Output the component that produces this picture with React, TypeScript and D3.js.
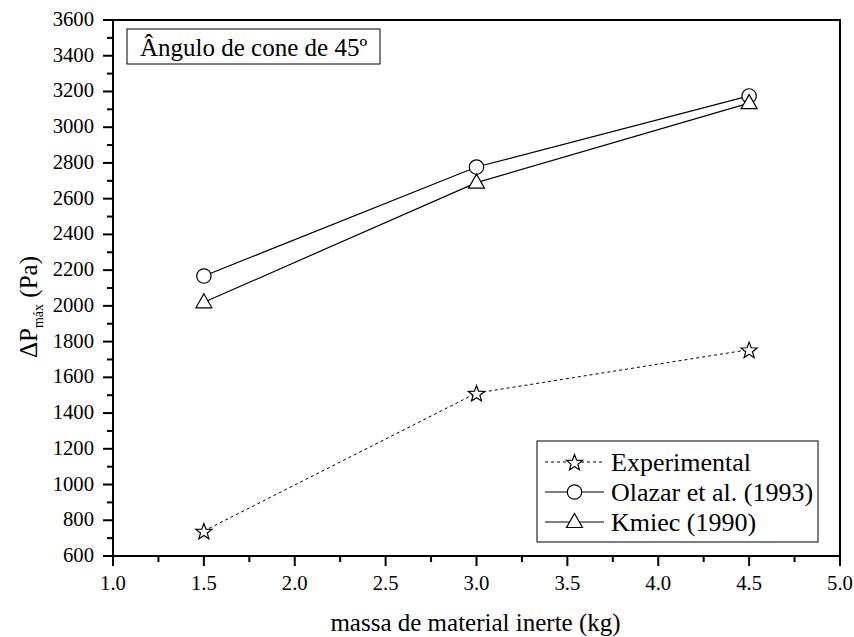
import React from "react";
import * as d3 from "d3";

const massValues = [1.5, 3.0, 4.5];
const experimental = [740, 1512, 1755];
const olazar = [2167, 2777, 3175];
const kmiec = [2020, 2690, 3135];
const xTicks = [1.0, 1.5, 2.0, 2.5, 3.0, 3.5, 4.0, 4.5, 5.0];
const yTicks = [600, 800, 1000, 1200, 1400, 1600, 1800, 2000, 2200, 2400, 2600, 2800, 3000, 3200, 3400, 3600];

const W = 854;
const H = 637;
const left = 113;
const right = 840;
const top = 20;
const bottom = 556;
const font = "Liberation Serif, DejaVu Serif, serif";

const x = d3.scaleLinear().domain([1, 5]).range([left, right]);
const y = d3.scaleLinear().domain([600, 3600]).range([bottom, top]);

const starPath = (cx: number, cy: number, r: number) => {
  const pts: [number, number][] = [];
  for (let i = 0; i < 10; i++) {
    const a = -Math.PI / 2 + (i * Math.PI) / 5;
    const rr = i % 2 === 0 ? r : r * 0.42;
    pts.push([cx + rr * Math.cos(a), cy + 1 + rr * Math.sin(a)]);
  }
  return "M" + pts.map((p) => p.join(",")).join("L") + "Z";
};

const triPath = (cx: number, cy: number, s: number) =>
  `M${cx},${cy - 8.5}L${cx + s / 2},${cy + 5.5}L${cx - s / 2},${cy + 5.5}Z`;

const Star = ({ cx, cy }: { cx: number; cy: number }) => (
  <path d={starPath(cx, cy, 8.5)} fill="white" stroke="black" strokeWidth={1.2} />
);
const Circ = ({ cx, cy }: { cx: number; cy: number }) => (
  <circle cx={cx} cy={cy} r={7.2} fill="white" stroke="black" strokeWidth={1.2} />
);
const Tri = ({ cx, cy }: { cx: number; cy: number }) => (
  <path d={triPath(cx, cy, 16)} fill="white" stroke="black" strokeWidth={1.2} />
);

const T = (props: any) => <text {...props} style={{ fontFamily: font }} />;

export default function App() {
  const line = d3
    .line<number>()
    .x((_, i) => x(massValues[i]))
    .y((d) => y(d));

  const xMinor = d3.range(1.25, 5, 0.5);
  const yMinor = d3.range(700, 3600, 200);

  const legendRows = [
    { label: "Experimental", dash: "3,3", M: Star },
    { label: "Olazar et al. (1993)", dash: undefined, M: Circ },
    { label: "Kmiec (1990)", dash: undefined, M: Tri },
  ];

  return (
    <svg width={W} height={H} style={{ position: "absolute", left: 0, top: 0 }}>
      <rect width={W} height={H} fill="white" />

      {/* series lines */}
      <path d={line(experimental) || ""} fill="none" stroke="black" strokeWidth={1} strokeDasharray="3,3" />
      <path d={line(olazar) || ""} fill="none" stroke="black" strokeWidth={1.2} />
      <path d={line(kmiec) || ""} fill="none" stroke="black" strokeWidth={1.2} />

      {experimental.map((v, i) => (
        <Star key={"e" + i} cx={x(massValues[i])} cy={y(v)} />
      ))}
      {olazar.map((v, i) => (
        <Circ key={"o" + i} cx={x(massValues[i])} cy={y(v)} />
      ))}
      {kmiec.map((v, i) => (
        <Tri key={"k" + i} cx={x(massValues[i])} cy={y(v)} />
      ))}

      {/* frame */}
      <rect x={left} y={top} width={right - left} height={bottom - top} fill="none" stroke="black" strokeWidth={2} />

      {/* x axis ticks */}
      {xTicks.map((t) => (
        <g key={"xt" + t}>
          <line x1={x(t)} x2={x(t)} y1={bottom} y2={bottom + 10} stroke="black" strokeWidth={2} />
          <T x={x(t)} y={bottom + 34} fontSize={20.7} textAnchor="middle">
            {t.toFixed(1)}
          </T>
        </g>
      ))}
      {xMinor.map((t) => (
        <line key={"xm" + t} x1={x(t)} x2={x(t)} y1={bottom} y2={bottom + 6} stroke="black" strokeWidth={2} />
      ))}

      {/* y axis ticks */}
      {yTicks.map((t) => (
        <g key={"yt" + t}>
          <line x1={left - 10} x2={left} y1={y(t)} y2={y(t)} stroke="black" strokeWidth={2} />
          <T x={left - 19} y={y(t) + 6} fontSize={20.7} textAnchor="end">
            {t}
          </T>
        </g>
      ))}
      {yMinor.map((t) => (
        <line key={"ym" + t} x1={left - 6} x2={left} y1={y(t)} y2={y(t)} stroke="black" strokeWidth={2} />
      ))}

      {/* axis titles */}
      <T x={475.5} y={631} fontSize={25} textAnchor="middle">
        massa de material inerte (kg)
      </T>
      <T transform="translate(37,307) rotate(-90)" fontSize={25} textAnchor="middle">
        <tspan>ΔP</tspan>
        <tspan fontSize={14} dy={6}>máx</tspan>
        <tspan dy={-6}> (Pa)</tspan>
      </T>

      {/* annotation box */}
      <rect x={127} y={29} width={253} height={35} fill="white" stroke="black" strokeWidth={1} />
      <T x={140} y={56} fontSize={25}>
        Ângulo de cone de 45º
      </T>

      {/* legend */}
      <rect x={537} y={441} width={281} height={101} fill="white" stroke="black" strokeWidth={1} />
      {legendRows.map((r, i) => {
        const cy = 462 + i * 30;
        const M = r.M;
        return (
          <g key={r.label}>
            <line x1={545} x2={604} y1={cy} y2={cy} stroke="black" strokeWidth={1.2} strokeDasharray={r.dash} />
            <M cx={574.5} cy={cy} />
            <T x={611} y={cy + 9} fontSize={26}>
              {r.label}
            </T>
          </g>
        );
      })}
    </svg>
  );
}
